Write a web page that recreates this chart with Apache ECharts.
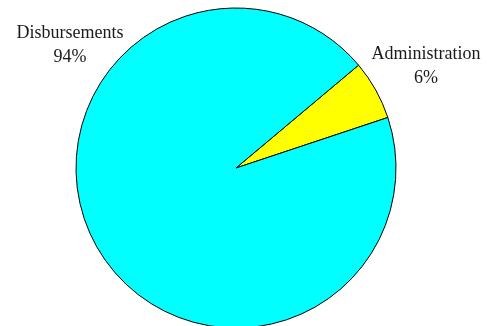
<!DOCTYPE html>
<html>
<head>
<meta charset="utf-8">
<script src="https://cdn.jsdelivr.net/npm/echarts@6/dist/echarts.min.js"></script>
<style>
  html, body { margin: 0; padding: 0; background: #ffffff; }
  #chart { width: 489px; height: 326px; }
</style>
</head>
<body>
<div id="chart"></div>
<script>
// Share of spending by category (percent)
const categories = ['Administration', 'Disbursements'];
const shares = [6, 94];
const sliceColors = ['#ffff00', '#00ffff'];

// Fixed anchor points for the two category labels (centre of text block)
const labelAnchors = [
  { x: 426, y: 66 },
  { x: 70, y: 45 }
];

const chart = echarts.init(document.getElementById('chart'), null, { renderer: 'canvas' });

chart.setOption({
  animation: false,
  backgroundColor: '#ffffff',
  series: [{
    type: 'pie',
    center: [236, 168],
    radius: 160,
    startAngle: 40,
    clockwise: true,
    avoidLabelOverlap: false,
    data: categories.map((name, i) => ({
      name: name,
      value: shares[i],
      itemStyle: { color: sliceColors[i] }
    })),
    itemStyle: { borderColor: '#000000', borderWidth: 1 },
    label: {
      show: true,
      position: 'outside',
      formatter: p => p.name + '\n' + p.value + '%',
      fontFamily: '"Liberation Serif", "DejaVu Serif", serif',
      fontSize: 18,
      lineHeight: 24,
      color: '#1a1a1a',
      align: 'center'
    },
    labelLine: { show: false },
    labelLayout: params => ({
      x: labelAnchors[params.dataIndex].x,
      y: labelAnchors[params.dataIndex].y,
      align: 'center',
      verticalAlign: 'middle'
    }),
    emphasis: { disabled: true }
  }]
});
</script>
</body>
</html>
